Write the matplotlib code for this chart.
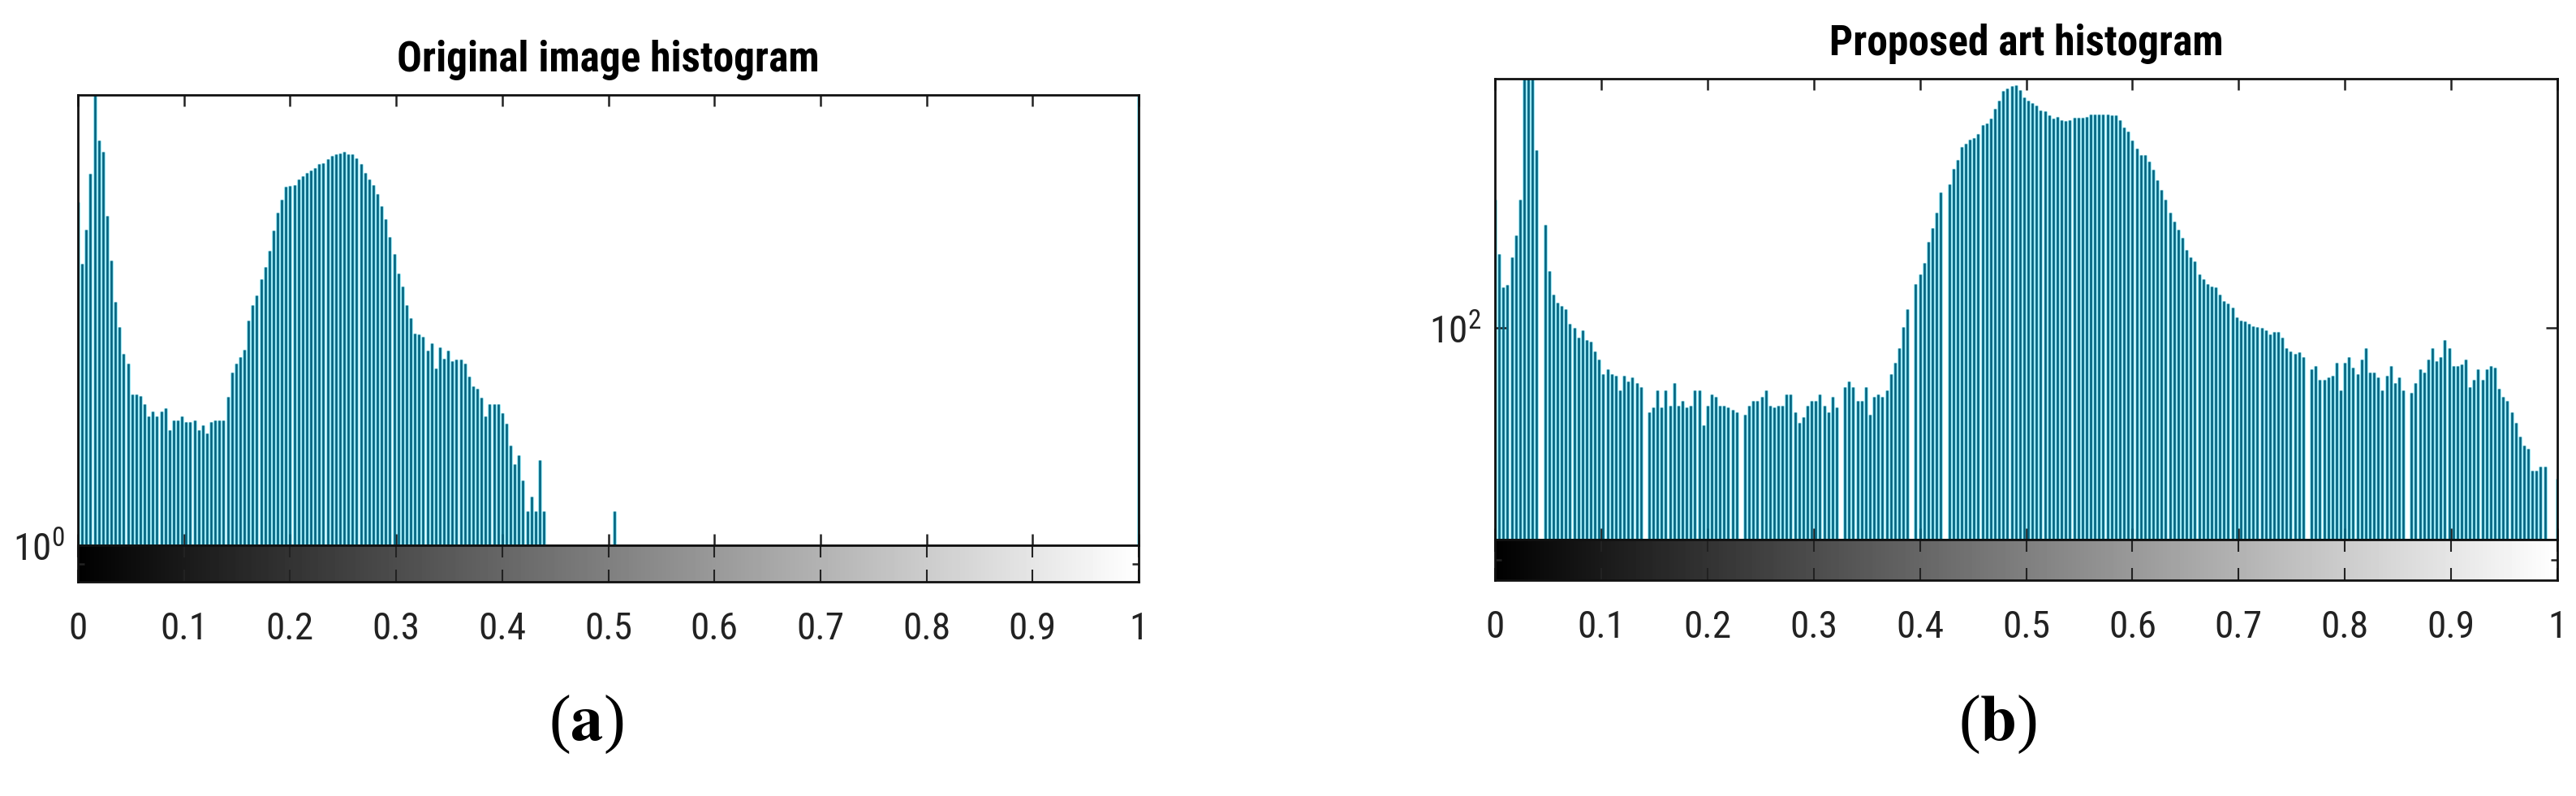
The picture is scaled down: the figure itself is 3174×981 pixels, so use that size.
import matplotlib
matplotlib.use("Agg")
import matplotlib.pyplot as plt
from matplotlib import font_manager
from matplotlib.ticker import FixedLocator, NullLocator
import numpy as np

# imhist style: 256 bins, bin k sits at k/255
bins = np.arange(256) / 255

# counts (log axis, 10^0 at the bottom)
orig_counts = [
    5.73, 4.20, 4.98, 6.63, 9.9, 7.87, 7.41, 5.35, 4.26, 3.45,
    3.04, 2.65, 2.52, 2.16, 2.16, 2.14, 2.05, 1.93, 1.98, 1.93,
    1.98, 2.01, 1.80, 1.89, 1.89, 1.93, 1.87, 1.87, 1.89, 1.80,
    1.84, 1.77, 1.87, 1.89, 1.89, 1.89, 2.13, 2.41, 2.52, 2.61,
    2.71, 3.14, 3.40, 3.57, 3.87, 4.13, 4.47, 4.97, 5.44, 5.82,
    6.20, 6.23, 6.27, 6.44, 6.55, 6.66, 6.73, 6.83, 6.96, 7.00,
    7.13, 7.25, 7.33, 7.36, 7.41, 7.33, 7.33, 7.18, 6.97, 6.66,
    6.44, 6.27, 5.99, 5.63, 5.26, 4.80, 4.41, 3.99, 3.74, 3.40,
    3.18, 2.94, 2.93, 2.89, 2.70, 2.80, 2.46, 2.74, 2.59, 2.70,
    2.55, 2.58, 2.58, 2.52, 2.36, 2.25, 2.22, 2.12, 1.93, 2.05,
    2.05, 2.05, 1.96, 1.86, 1.66, 1.51, 1.58, 1.39, 1.19, 1.28,
    1.19, 1.54, 1.19,
] + [0] * 16 + [1.19] + [0] * 125 + [9.9]

# counts
art_counts = [
    306, 191, 143, 146, 186, 224, 306, 1500, 1500, 1500,
    472, 0, 246, 165, 134, 125, 121, 118, 104, 100,
    92, 98, 90, 89, 82, 76, 67, 70, 67, 66,
    58, 66, 63, 65, 62, 60, 0, 48, 50, 58,
    50, 58, 51, 62, 51, 53, 50, 51, 58, 58,
    43, 51, 56, 55, 51, 51, 50, 49, 48, 0,
    47, 51, 53, 53, 55, 58, 51, 50, 51, 51,
    56, 56, 48, 44, 46, 51, 53, 53, 56, 51,
    48, 55, 50, 0, 60, 63, 60, 53, 53, 60,
    47, 55, 56, 55, 58, 67, 74, 84, 101, 118,
    0, 147, 160, 176, 213, 239, 273, 327, 0, 350,
    400, 434, 487, 501, 519, 526, 545, 588, 595, 622,
    677, 728, 789, 805, 824, 831, 795, 749, 728, 711,
    696, 669, 664, 640, 622, 630, 612, 608, 612, 625,
    625, 625, 630, 643, 643, 643, 643, 643, 640, 640,
    612, 577, 554, 515, 479, 453, 453, 427, 397, 363,
    334, 306, 273, 253, 236, 220, 198, 185, 179, 160,
    153, 147, 144, 143, 134, 127, 124, 120, 110, 107,
    106, 104, 102, 101, 100, 98, 95, 97, 97, 92,
    84, 82, 80, 81, 78, 0, 70, 72, 64, 64,
    65, 66, 74, 58, 74, 78, 71, 67, 76, 84,
    68, 68, 65, 58, 66, 72, 62, 65, 58, 0,
    57, 62, 70, 68, 76, 84, 75, 78, 90, 84,
    72, 72, 73, 76, 60, 64, 70, 64, 70, 72,
    71, 59, 55, 53, 48, 44, 39, 36, 35, 29,
    29, 30, 30, 0, 0, 27,
]

orig_ylim = (1, 9.9)
art_ylim = (10 ** 1.2, 10 ** 2.944)

x_ticks = [0, 0.1, 0.2, 0.3, 0.4, 0.5, 0.6, 0.7, 0.8, 0.9, 1]
x_tick_labels = ["0", "0.1", "0.2", "0.3", "0.4", "0.5", "0.6", "0.7", "0.8", "0.9", "1"]
titles = ["Original image histogram", "Proposed art histogram"]
panel_labels = ["a", "b"]

assert len(orig_counts) == 256 and len(art_counts) == 256

# pick the narrowest sans we have (MATLAB text in the figure is squeezed)
avail = {f.name for f in font_manager.fontManager.ttflist}
narrow = "Liberation Sans"
for name in ["Liberation Sans Narrow", "Roboto Condensed", "DejaVu Sans Condensed"]:
    if name in avail:
        narrow = name
        break

plt.rcParams["font.family"] = [narrow, "DejaVu Sans"]
plt.rcParams["mathtext.fontset"] = "custom"
plt.rcParams["mathtext.rm"] = narrow
plt.rcParams["mathtext.it"] = narrow
plt.rcParams["mathtext.bf"] = narrow + ":bold"
plt.rcParams["mathtext.default"] = "regular"

W, H = 3174, 981
fig = plt.figure(figsize=(W / 100, H / 100), dpi=100)

dark = "#00627f"
halo = "#9fe8f4"
ink = "#222222"
gradient = np.linspace(0, 1, 256)[None, :]


def rect(x0, x1, y0, y1):
    # pixel box -> figure fraction
    return [x0 / W, 1 - y1 / H, (x1 - x0) / W, (y1 - y0) / H]


def panel(hist_box, grad_box, counts, ylim, title, label, label_xy):
    ax = fig.add_axes(rect(*hist_box))
    c = np.asarray(counts, float)
    m = c > 0
    ax.vlines(bins[m], ylim[0], c[m], colors=halo, linewidth=3.7, zorder=1)
    ax.vlines(bins[m], ylim[0], c[m], colors=dark, linewidth=1.9, zorder=2)
    ax.set_yscale("log")
    ax.set_xlim(0, 1)
    ax.set_ylim(*ylim)
    ax.yaxis.set_minor_locator(NullLocator())
    ax.xaxis.set_major_locator(FixedLocator(x_ticks))
    ax.tick_params(axis="x", direction="in", top=True, bottom=True,
                   length=10, width=1.8, color=ink, labelbottom=False)
    ax.tick_params(axis="y", which="major", direction="in", left=True, right=True,
                   length=10, width=1.8, color=ink, labelsize=34, labelcolor=ink, pad=12)
    for s in ax.spines.values():
        s.set_linewidth(2.0)
        s.set_color("#111111")
    ax.set_title(title, fontsize=37, fontweight="bold", pad=21)

    gx = fig.add_axes(rect(*grad_box))
    gx.imshow(gradient, cmap="gray", aspect="auto", extent=(0, 1, 0, 1), vmin=0, vmax=1)
    gx.set_xlim(0, 1)
    gx.set_ylim(0, 1)
    gx.set_xticks(x_ticks)
    gx.set_xticklabels(x_tick_labels)
    gx.set_yticks([0.5])
    gx.set_yticklabels([])
    gx.tick_params(axis="x", direction="in", top=True, bottom=True, length=11,
                   width=1.5, color=ink, labelsize=34, labelcolor=ink, pad=26)
    gx.tick_params(axis="y", direction="in", left=True, right=True, length=6,
                   width=1.8, color=ink)
    for s in gx.spines.values():
        s.set_linewidth(2.0)
        s.set_color("#111111")

    fig.text(label_xy[0] / W, 1 - label_xy[1] / H, "($\\mathbf{%s}$)" % label,
             family="Liberation Serif", math_fontfamily="stix",
             fontsize=58, ha="center", va="center", color="black")


panel((96, 1403, 117, 672), (96, 1403, 672, 717), orig_counts, orig_ylim,
      titles[0], panel_labels[0], (722, 893))
panel((1842, 3151, 97, 665), (1842, 3151, 665, 715), art_counts, art_ylim,
      titles[1], panel_labels[1], (2461, 893))

fig.savefig("out.png", dpi=100, facecolor="white")
